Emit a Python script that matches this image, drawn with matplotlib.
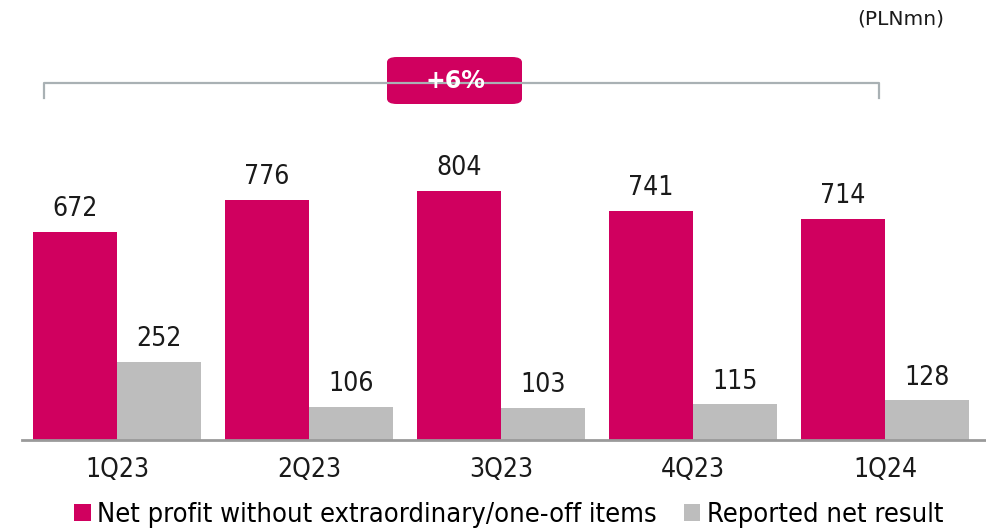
import numpy as np
import matplotlib.pyplot as plt
from matplotlib.patches import FancyBboxPatch
from matplotlib.lines import Line2D

quarters = ["1Q23", "2Q23", "3Q23", "4Q23", "1Q24"]
net_profit_adj = [672, 776, 804, 741, 714]
reported = [252, 106, 103, 115, 128]
legend_labels = ["Net profit without extraordinary/one-off items", "Reported net result"]
growth_label = "+6%"
unit_label = "(PLNmn)"

MAGENTA = "#d0005f"
GREY = "#bdbdbd"
FONT = dict(family="DejaVu Sans", stretch="condensed")

W, H = 987, 529
fig = plt.figure(figsize=(W / 100, H / 100), dpi=100)

# axes: baseline at y=440 px, left at x=22 px
ax = fig.add_axes([22 / W, (H - 440) / H, 1 - 22 / W, 440 / H])
x = np.arange(len(quarters))
bw = 84 / 192
b1 = ax.bar(x - bw / 2, net_profit_adj, bw, color=MAGENTA, label=legend_labels[0])
b2 = ax.bar(x + bw / 2, reported, bw, color=GREY, label=legend_labels[1])
ax.set_xlim((22 - 117) / 192, (987 - 117) / 192)
ax.set_ylim(0, 440 / 0.3095)

for bars, vals in ((b1, net_profit_adj), (b2, reported)):
    for r, v in zip(bars, vals):
        ax.annotate(str(v), (r.get_x() + r.get_width() / 2, v), xytext=(0, 7),
                    textcoords="offset points", ha="center", va="bottom",
                    fontsize=19, color="#1a1a1a", **FONT)

for s in ("top", "right", "left"):
    ax.spines[s].set_visible(False)
ax.spines["bottom"].set_color("#9a9a9a")
ax.spines["bottom"].set_linewidth(2)
ax.set_yticks([])
ax.set_xticks(x)
ax.set_xticklabels(quarters, fontsize=19, color="#1a1a1a", **FONT)
ax.tick_params(axis="x", length=0, pad=12)

# bracket with growth box (figure pixel coords)
def fx(px):
    return px / W

def fy(py):
    return 1 - py / H

bc = "#a9b1b4"
fig.add_artist(Line2D([fx(44), fx(44), fx(879), fx(879)],
                      [fy(98), fy(83), fy(83), fy(98)], color=bc, lw=1.6))
box = FancyBboxPatch((fx(387), fy(104)), fx(522) - fx(387), fy(57) - fy(104),
                     boxstyle="round,pad=0,rounding_size=0.01",
                     transform=fig.transFigure, facecolor=MAGENTA, edgecolor="none")
fig.add_artist(box)
fig.text(fx(455), fy(81), growth_label, ha="center", va="center", color="white",
         fontsize=17, fontweight="bold", family="DejaVu Sans")

fig.text(fx(944), fy(19), unit_label, ha="right", va="center", fontsize=14.5,
         color="#1a1a1a", family="DejaVu Sans")

fig.legend(handles=[b1, b2], loc="center", bbox_to_anchor=(fx(509), fy(515)),
           ncol=2, frameon=False, handlelength=0.6, handleheight=0.6,
           handletextpad=0.25, columnspacing=1.0, borderaxespad=0,
           prop=dict(size=19.5, **FONT))

fig.savefig("out.png", dpi=100)
